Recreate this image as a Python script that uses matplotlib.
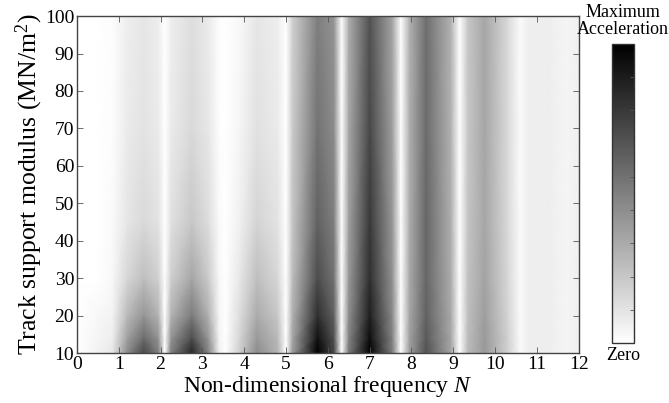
import matplotlib
matplotlib.use("Agg")
import matplotlib.pyplot as plt
import numpy as np

plt.rcParams['font.family'] = 'serif'
plt.rcParams['font.serif'] = ['Liberation Serif', 'DejaVu Serif']
plt.rcParams['mathtext.fontset'] = 'custom'
plt.rcParams['mathtext.rm'] = 'Liberation Serif'
plt.rcParams['mathtext.it'] = 'Liberation Serif:italic'

# frequency nodes (non-dimensional N)
freq = [0, 0.5, 0.85, 1.2, 1.6, 1.95, 2.1, 2.25, 2.75, 3.15, 3.4, 3.55,
        3.9, 4.3, 4.8, 5.0, 5.15, 5.75, 6.15, 6.33, 6.5, 7.0, 7.55, 7.75,
        7.95, 8.35, 8.95, 9.15, 9.35, 9.75, 10.3, 10.6, 10.8, 11.3, 11.7, 12.0]

# track support modulus rows (MN/m^2)
modulus = [10, 14, 20, 30, 45, 70, 100]

# relative acceleration (0 = zero, 1 = maximum), one list per modulus row
acc_k10 = [0, 0.05, 0.10, 0.45, 0.72, 0.50, 0, 0.50, 0.85, 0.48, 0.06, 0,
           0.20, 0.45, 0.30, 0, 0.38, 1.00, 0.72, 0, 0.52, 1.00, 0.50, 0,
           0.38, 0.68, 0.35, 0, 0.27, 0.40, 0.18, 0.02, 0.07, 0.07, 0.04, 0.06]
acc_k14 = [0, 0.04, 0.07, 0.37, 0.58, 0.42, 0, 0.42, 0.70, 0.40, 0.05, 0,
           0.17, 0.40, 0.27, 0, 0.34, 0.93, 0.68, 0, 0.48, 0.95, 0.48, 0,
           0.36, 0.65, 0.34, 0, 0.26, 0.40, 0.18, 0.02, 0.07, 0.07, 0.04, 0.06]
acc_k20 = [0, 0.03, 0.05, 0.27, 0.42, 0.30, 0, 0.30, 0.52, 0.30, 0.04, 0,
           0.14, 0.33, 0.22, 0, 0.30, 0.82, 0.62, 0, 0.44, 0.88, 0.45, 0,
           0.34, 0.62, 0.33, 0, 0.25, 0.38, 0.17, 0.02, 0.07, 0.07, 0.04, 0.06]
acc_k30 = [0, 0, 0.03, 0.16, 0.25, 0.18, 0, 0.19, 0.35, 0.20, 0.03, 0,
           0.10, 0.25, 0.16, 0, 0.25, 0.70, 0.55, 0, 0.40, 0.82, 0.42, 0,
           0.33, 0.60, 0.32, 0, 0.24, 0.36, 0.16, 0.02, 0.07, 0.07, 0.04, 0.06]
acc_k45 = [0, 0, 0.02, 0.10, 0.15, 0.11, 0, 0.12, 0.22, 0.13, 0.02, 0,
           0.06, 0.17, 0.11, 0, 0.22, 0.62, 0.50, 0, 0.37, 0.78, 0.40, 0,
           0.32, 0.60, 0.31, 0, 0.23, 0.35, 0.15, 0.02, 0.07, 0.07, 0.04, 0.06]
acc_k70 = [0, 0, 0.01, 0.08, 0.11, 0.08, 0, 0.08, 0.15, 0.09, 0.01, 0,
           0.04, 0.12, 0.08, 0, 0.20, 0.55, 0.45, 0, 0.34, 0.72, 0.37, 0,
           0.31, 0.58, 0.30, 0, 0.22, 0.35, 0.15, 0.02, 0.07, 0.07, 0.04, 0.06]
acc_k100 = [0, 0, 0.01, 0.07, 0.10, 0.07, 0, 0.07, 0.13, 0.08, 0.01, 0,
            0.03, 0.10, 0.07, 0, 0.18, 0.50, 0.42, 0, 0.32, 0.68, 0.35, 0,
            0.30, 0.57, 0.30, 0, 0.22, 0.35, 0.15, 0.02, 0.07, 0.07, 0.04, 0.06]

x_ticks = list(range(0, 13))
y_ticks = list(range(10, 101, 10))

acc = np.array([acc_k10, acc_k14, acc_k20, acc_k30, acc_k45, acc_k70, acc_k100])

fig = plt.figure(figsize=(6.69, 4.03), dpi=100)
ax = fig.add_axes([0.115, 0.124, 0.75, 0.836])

mesh = ax.pcolormesh(freq, modulus, acc, shading='gouraud',
                     cmap='gray_r', vmin=0, vmax=1)

ax.set_xlim(0, 12)
ax.set_ylim(10, 100)
ax.set_xticks(x_ticks)
ax.set_yticks(y_ticks)
ax.tick_params(direction='in', length=4, width=0.6, top=True, right=True,
               labelsize=14, colors='#555555', labelcolor='black', pad=2)
for s in ax.spines.values():
    s.set_color('#444444')
    s.set_linewidth(1.0)

ax.set_xlabel('Non-dimensional frequency $N$', fontsize=17, labelpad=1)
ax.set_ylabel('Track support modulus (MN/m$^2$)', fontsize=18.5, labelpad=0)

# colour bar
cax = fig.add_axes([0.915, 0.149, 0.033, 0.742])
cb = fig.colorbar(mesh, cax=cax)
cb.set_ticks(np.linspace(0, 1, 10))
cb.ax.tick_params(direction='in', length=3, width=0.6, labelright=False,
                  colors='#555555')
cb.outline.set_linewidth(1.0)
cb.outline.set_edgecolor('#333333')
cax.text(0.5, 1.02, 'Maximum\nAcceleration', transform=cax.transAxes,
         ha='center', va='bottom', fontsize=13, linespacing=1.0)
cax.text(0.5, -0.015, 'Zero', transform=cax.transAxes,
         ha='center', va='top', fontsize=13)

fig.savefig('out.png', dpi=100)
